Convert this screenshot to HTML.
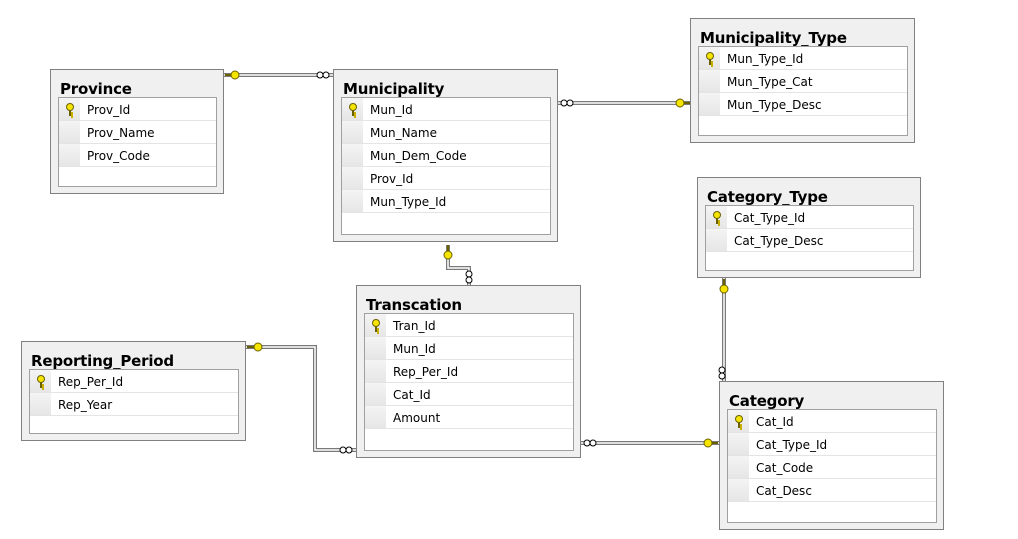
<!DOCTYPE html>
<html><head><meta charset="utf-8"><style>
body{margin:0;width:1018px;height:539px;background:#fff;position:relative;overflow:hidden;font-family:"DejaVu Sans","Liberation Sans",sans-serif}
.t{position:absolute;background:#f0f0f0;border:1px solid #808080;box-sizing:border-box}
.t h{position:absolute;left:9px;top:10px;font-weight:bold;font-size:15px;color:#000;font-family:"DejaVu Sans",sans-serif;letter-spacing:-0.2px}
.g{position:absolute;left:7px;top:27px;right:6px;bottom:6px;background:#fff;border:1px solid #a0a0a0;box-sizing:border-box}
.r{height:23px;border-bottom:1px solid #e4e4e4;box-sizing:border-box;position:relative;font-size:12px;line-height:24px;color:#000}
.r::before{content:"";position:absolute;left:0;top:0;width:21px;height:22px;background:linear-gradient(#f4f4f4,#e6e6e6)}
.r span{position:absolute;left:28px;top:0}
.r i{position:absolute;left:7px;top:5px;width:8px;height:13px}
.r i::before{content:"";position:absolute;left:0;top:0;width:6px;height:6px;border:1px solid #6b6000;border-radius:50%;background:#f5e400}
.r i::after{content:"";position:absolute;left:3px;top:7px;width:2px;height:6px;background:#6b6000;box-shadow:2px 2px 0 -0px #c8b000}
svg{position:absolute;left:0;top:0}
</style></head><body>
<svg width="1018" height="539">
<g fill="none" stroke-linejoin="miter">
<g stroke="#7a7a7a" stroke-width="4">
<path d="M223 75H333"/><path d="M557 103H690"/><path d="M448 245V268H469V285"/>
<path d="M245 347H315V450H356"/><path d="M580 443H719"/><path d="M724 277V381"/>
</g>
<g stroke="#fff" stroke-width="1.5">
<path d="M223 75H333"/><path d="M557 103H690"/><path d="M448 245V268H469V285"/>
<path d="M245 347H315V450H356"/><path d="M580 443H719"/><path d="M724 277V381"/>
</g>
</g>
<g fill="#fff" stroke="#000" stroke-width="1">
<circle cx="320" cy="75" r="3"/><circle cx="326" cy="75" r="3"/>
<circle cx="564" cy="103" r="3"/><circle cx="570" cy="103" r="3"/>
<circle cx="469" cy="274" r="3"/><circle cx="469" cy="280" r="3"/>
<circle cx="343" cy="450" r="3"/><circle cx="349" cy="450" r="3"/>
<circle cx="587" cy="443" r="3"/><circle cx="593" cy="443" r="3"/>
<circle cx="722" cy="370" r="3"/><circle cx="722" cy="376" r="3"/>
</g>
<g fill="#f5e400" stroke="#6b6000" stroke-width="1">
<circle cx="235" cy="75" r="4"/><path d="M225 75h6" stroke-width="2"/>
<circle cx="680" cy="103" r="4"/><path d="M684 103h6" stroke-width="2"/>
<circle cx="448" cy="255" r="4"/><path d="M448 245v6" stroke-width="2"/>
<circle cx="258" cy="347" r="4"/><path d="M247 347h7" stroke-width="2"/>
<circle cx="708" cy="443" r="4"/><path d="M712 443h6" stroke-width="2"/>
<circle cx="724" cy="289" r="4"/><path d="M724 279v6" stroke-width="2"/>
</g>
</svg>

<div class="t" style="left:50px;top:69px;width:174px;height:125px"><h>Province</h><div class="g">
<div class="r"><i></i><span>Prov_Id</span></div><div class="r"><span>Prov_Name</span></div><div class="r"><span>Prov_Code</span></div></div></div>

<div class="t" style="left:333px;top:69px;width:225px;height:173px"><h>Municipality</h><div class="g">
<div class="r"><i></i><span>Mun_Id</span></div><div class="r"><span>Mun_Name</span></div><div class="r"><span>Mun_Dem_Code</span></div><div class="r"><span>Prov_Id</span></div><div class="r"><span>Mun_Type_Id</span></div></div></div>

<div class="t" style="left:690px;top:18px;width:225px;height:125px"><h>Municipality_Type</h><div class="g">
<div class="r"><i></i><span>Mun_Type_Id</span></div><div class="r"><span>Mun_Type_Cat</span></div><div class="r"><span>Mun_Type_Desc</span></div></div></div>

<div class="t" style="left:697px;top:177px;width:224px;height:101px"><h>Category_Type</h><div class="g">
<div class="r"><i></i><span>Cat_Type_Id</span></div><div class="r"><span>Cat_Type_Desc</span></div></div></div>

<div class="t" style="left:356px;top:285px;width:225px;height:173px"><h>Transcation</h><div class="g">
<div class="r"><i></i><span>Tran_Id</span></div><div class="r"><span>Mun_Id</span></div><div class="r"><span>Rep_Per_Id</span></div><div class="r"><span>Cat_Id</span></div><div class="r"><span>Amount</span></div></div></div>

<div class="t" style="left:21px;top:341px;width:225px;height:100px"><h>Reporting_Period</h><div class="g">
<div class="r"><i></i><span>Rep_Per_Id</span></div><div class="r"><span>Rep_Year</span></div></div></div>

<div class="t" style="left:719px;top:381px;width:225px;height:149px"><h>Category</h><div class="g">
<div class="r"><i></i><span>Cat_Id</span></div><div class="r"><span>Cat_Type_Id</span></div><div class="r"><span>Cat_Code</span></div><div class="r"><span>Cat_Desc</span></div></div></div>
</body></html>
